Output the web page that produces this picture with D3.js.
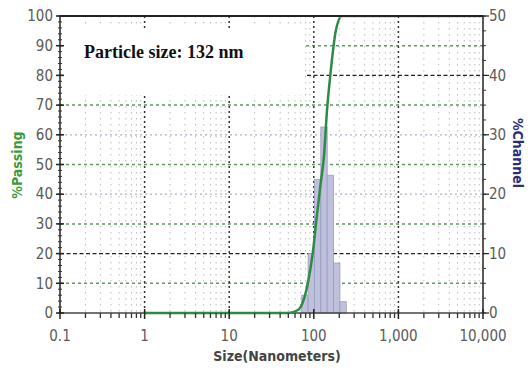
<!DOCTYPE html>
<html><head><meta charset="utf-8">
<script src="https://cdn.jsdelivr.net/npm/d3@7"></script>
<style>body{margin:0;background:#fff}svg{display:block}</style>
</head><body>
<svg id="c" width="531" height="372"></svg>
<script>
// ---- data ----
const xTickValues = [0.1, 1, 10, 100, 1000, 10000];
const xTickLabels = ["0.1", "1", "10", "100", "1,000", "10,000"];
const passingTicks = [0, 10, 20, 30, 40, 50, 60, 70, 80, 90, 100];
const channelTicks = [0, 10, 20, 30, 40, 50];
const binEdges = [72, 85.6, 101.8, 121.1, 144, 171.2, 203.6, 242.1];
const channelValues = [3, 10, 22.5, 31.3, 23.2, 8.4, 1.9];
const curveSizes = [1, 50, 65, 75, 85, 98, 108, 121, 132, 143, 158, 182, 215, 10000];
const curvePassing = [0, 0, 1, 4, 10, 21, 32, 44, 53, 68, 81, 95, 100, 100];
const annotation = "Particle size: 132 nm";

// ---- layout ----
const svg = d3.select("#c");
const L = 60, R = 483, T = 16, B = 313;
const x = d3.scaleLog().domain([0.1, 10000]).range([L, R]);
const yL = d3.scaleLinear().domain([0, 100]).range([B, T]);
const yR = d3.scaleLinear().domain([0, 50]).range([B, T]);
const tickFont = "'DejaVu Sans Condensed','Liberation Sans Narrow','Arial Narrow',sans-serif";

svg.append("defs").append("clipPath").attr("id", "clipTop")
  .append("rect").attr("x", 0).attr("y", T + 1.2).attr("width", 531).attr("height", 372);

// minor vertical grid
const minors = [];
for (let d = 0.1; d < 10000; d *= 10) for (let k = 2; k <= 9; k++) minors.push(d * k);
svg.append("g").selectAll("line").data(minors).join("line")
  .attr("x1", d => x(d)).attr("x2", d => x(d)).attr("y1", T).attr("y2", B)
  .attr("stroke", "#b8bcb8").attr("stroke-width", 1).attr("stroke-dasharray", "1.5,4.5");

// horizontal grid
const hStyle = v => {
  if (v === 20 || v === 80) return {c: "#222", d: "4,2.5", w: 1.2};
  if (v === 40 || v === 60) return {c: "#a9b3c9", d: "2,3", w: 1.2};
  return {c: "#5f9a5f", d: "3,3", w: 1.5};
};
svg.append("g").selectAll("line").data(passingTicks.filter(v => v > 0 && v < 100)).join("line")
  .attr("x1", L).attr("x2", R).attr("y1", d => yL(d)).attr("y2", d => yL(d))
  .attr("stroke", d => hStyle(d).c).attr("stroke-width", d => hStyle(d).w)
  .attr("stroke-dasharray", d => hStyle(d).d);

// major vertical grid
svg.append("g").selectAll("line").data(xTickValues.slice(1, -1)).join("line")
  .attr("x1", d => x(d)).attr("x2", d => x(d)).attr("y1", T).attr("y2", B)
  .attr("stroke", "#333").attr("stroke-width", 1.5).attr("stroke-dasharray", "2,3");

// annotation box
svg.append("rect").attr("x", 63).attr("y", 28).attr("width", 242).attr("height", 67).attr("fill", "#fff");
svg.append("text").attr("x", 84).attr("y", 58)
  .attr("font-family", "'Liberation Serif','Times New Roman',serif").attr("font-weight", "bold")
  .attr("font-size", 18).attr("fill", "#111").text(annotation);

// bars
const bins = channelValues.map((v, i) => ({x0: binEdges[i], x1: binEdges[i + 1], v}));
svg.append("g").selectAll("rect").data(bins).join("rect")
  .attr("x", d => x(d.x0)).attr("width", d => x(d.x1) - x(d.x0))
  .attr("y", d => yR(d.v)).attr("height", d => B - yR(d.v))
  .attr("fill", "#bfc0dc").attr("stroke", "#9a9cc0").attr("stroke-width", 0.8);

svg.append("line").attr("x1", L).attr("x2", R).attr("y1", B).attr("y2", B).attr("stroke", "#444").attr("stroke-width", 1.5);

// curve
const pts = curveSizes.map((s, i) => [s, curvePassing[i]]);
svg.append("path").datum(pts).attr("clip-path", "url(#clipTop)")
  .attr("d", d3.line().x(d => x(d[0])).y(d => yL(d[1])).curve(d3.curveMonotoneX))
  .attr("fill", "none").attr("stroke", "#2f8a45").attr("stroke-width", 2.5);

svg.append("line").attr("x1", L).attr("x2", R).attr("y1", T).attr("y2", T).attr("stroke", "#222").attr("stroke-width", 2);
svg.append("line").attr("x1", L).attr("x2", L).attr("y1", T).attr("y2", B).attr("stroke", "#222").attr("stroke-width", 1.5);
svg.append("line").attr("x1", R).attr("x2", R).attr("y1", T).attr("y2", B).attr("stroke", "#222").attr("stroke-width", 1.5);

// left axis
const leftMinor = d3.range(0, 101, 2);
svg.append("g").selectAll("line").data(leftMinor).join("line")
  .attr("x1", L - 2).attr("x2", L + 2).attr("y1", d => yL(d)).attr("y2", d => yL(d)).attr("stroke", "#333");
svg.append("g").selectAll("line").data(passingTicks).join("line")
  .attr("x1", L - 4).attr("x2", L + 4).attr("y1", d => yL(d)).attr("y2", d => yL(d)).attr("stroke", "#222").attr("stroke-width", 1.5);
svg.append("g").selectAll("text").data(passingTicks).join("text")
  .attr("x", L - 7).attr("y", d => yL(d)).attr("dy", "0.35em").attr("text-anchor", "end")
  .attr("font-family", tickFont).attr("font-size", 15).attr("fill", "#5a5a5a").text(d => d);

// right axis
const rightMinor = d3.range(0, 50.1, 2.5);
svg.append("g").selectAll("line").data(rightMinor).join("line")
  .attr("x1", R).attr("x2", R + 3).attr("y1", d => yR(d)).attr("y2", d => yR(d)).attr("stroke", "#333");
svg.append("g").selectAll("line").data(channelTicks).join("line")
  .attr("x1", R).attr("x2", R + 6).attr("y1", d => yR(d)).attr("y2", d => yR(d)).attr("stroke", "#222").attr("stroke-width", 1.2);
svg.append("g").selectAll("text").data(channelTicks).join("text")
  .attr("x", R + 6).attr("y", d => yR(d)).attr("dy", "0.35em").attr("text-anchor", "start")
  .attr("font-family", tickFont).attr("font-size", 15).attr("fill", "#5a5a5a").text(d => d);

// bottom axis
svg.append("g").selectAll("line").data(minors).join("line")
  .attr("x1", d => x(d)).attr("x2", d => x(d)).attr("y1", B).attr("y2", B + 5).attr("stroke", "#333").attr("stroke-width", 1.3);
svg.append("g").selectAll("line").data(xTickValues).join("line")
  .attr("x1", d => x(d)).attr("x2", d => x(d)).attr("y1", B - 4).attr("y2", B + 6).attr("stroke", "#222").attr("stroke-width", 1.5);
svg.append("g").selectAll("text").data(xTickValues).join("text")
  .attr("x", d => x(d)).attr("y", 341).attr("text-anchor", "middle")
  .attr("font-family", tickFont).attr("font-size", 15).attr("fill", "#5a5a5a").text((d, i) => xTickLabels[i]);

// titles
svg.append("text").attr("x", 277).attr("y", 361).attr("text-anchor", "middle")
  .attr("font-family", tickFont).attr("font-weight", "bold").attr("font-size", 14).attr("fill", "#444")
  .text("Size(Nanometers)");
svg.append("text").attr("transform", "translate(22,165) rotate(-90)").attr("text-anchor", "middle")
  .attr("font-family", tickFont).attr("font-weight", "bold").attr("font-size", 14).attr("fill", "#3c9a3c")
  .text("%Passing");
svg.append("text").attr("transform", "translate(513,153) rotate(90)").attr("text-anchor", "middle")
  .attr("font-family", tickFont).attr("font-weight", "bold").attr("font-size", 14).attr("fill", "#2b2b7a")
  .text("%Channel");
</script>
</body></html>
